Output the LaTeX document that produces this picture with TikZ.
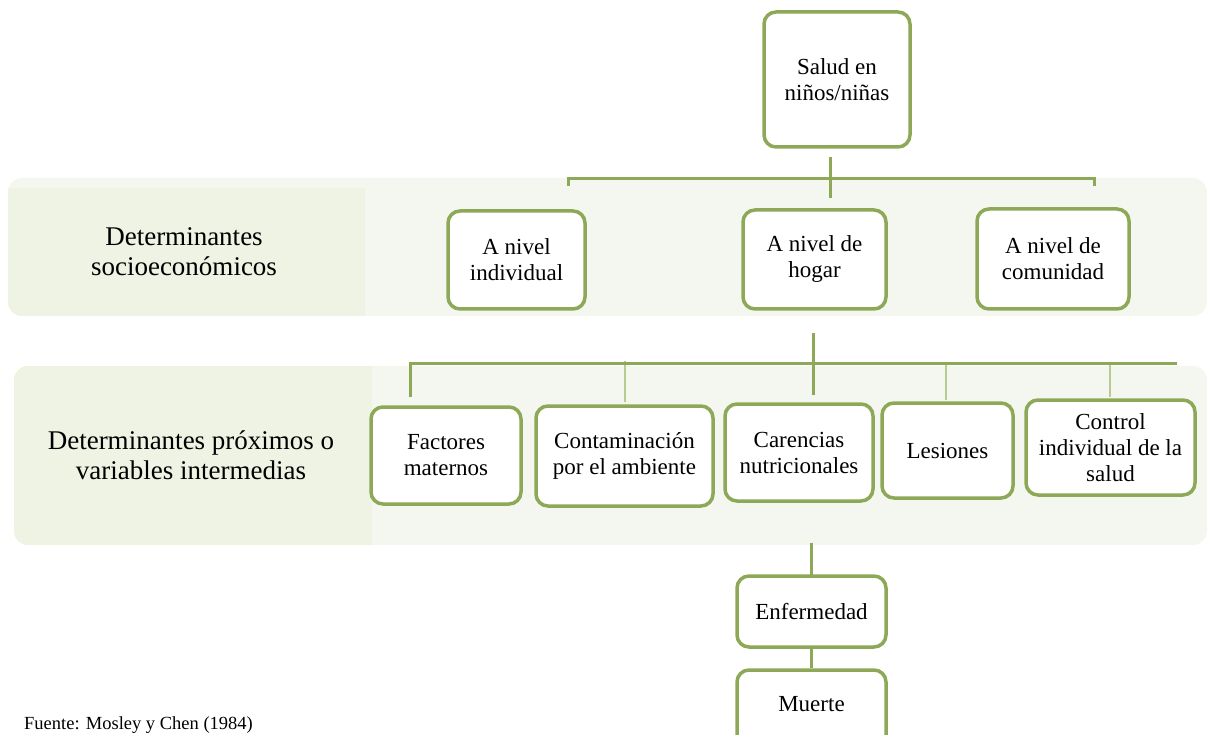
\documentclass[tikz,border=0pt]{standalone}
\usepackage{fontspec}
\setmainfont{Liberation Serif}
\usetikzlibrary{calc}

\definecolor{boxgreen}{HTML}{8DA957}
\definecolor{lightlink}{HTML}{B6CD8F}
\definecolor{bandlight}{HTML}{F4F7F0}
\definecolor{banddark}{HTML}{EEF3E4}

\begin{document}
\begin{tikzpicture}[x=1pt,y=-1pt,
  box/.style={draw=boxgreen, line width=3.5pt, rounded corners=12pt, fill=white,
              align=center, inner sep=0pt, font=\fontsize{23}{26}\selectfont},
  link/.style={draw=boxgreen, line width=3pt},
  softlink/.style={draw=lightlink, line width=2pt},
  bandlabel/.style={align=center, inner sep=0pt, font=\fontsize{27}{30}\selectfont}]

\useasboundingbox (0,0) rectangle (1208,735);
\clip (0,0) rectangle (1208,735);

% background bands
\fill[bandlight, rounded corners=14pt] (8,178) rectangle (1207,316);
\begin{scope}
  \clip[rounded corners=14pt] (8,178) rectangle (1207,316);
  \fill[banddark] (8,188) rectangle (365,316);
\end{scope}
\fill[bandlight, rounded corners=14pt] (14,366) rectangle (1207,545);
\begin{scope}
  \clip[rounded corners=14pt] (14,366) rectangle (1207,545);
  \fill[banddark] (14,366) rectangle (372,545);
\end{scope}

% band labels
\node[bandlabel] (socio) at (184,252) {Determinantes\\socioecon\'omicos};
\node[bandlabel] (prox) at (191,455) {Determinantes pr\'oximos o\\variables intermedias};

% boxes
\node[box, minimum width=146pt, minimum height=135pt] (salud) at (837,79.5) {Salud en\\ni\~nos/ni\~nas};

\node[box, minimum width=137pt, minimum height=98pt] (indiv) at (516.5,260) {A nivel\\individual};
\node[box, minimum width=143pt, minimum height=99pt] (hogar) at (814.5,259.5) {A nivel de\\hogar};
\node[box, minimum width=152pt, minimum height=100pt] (comun) at (1053,259) {A nivel de\\comunidad};

\node[box, minimum width=150pt, minimum height=97pt] (factores) at (446,455.5) {Factores\\maternos};
\node[box, minimum width=177pt, minimum height=100pt] (contam) at (624.5,456) {Contaminaci\'on\\por el ambiente};
\node[box, minimum width=148pt, minimum height=97pt] (carenc) at (799,452.5) {Carencias\\nutricionales};
\node[box, minimum width=131pt, minimum height=95pt] (lesion) at (947.5,450.5) {Lesiones};
\node[box, minimum width=169pt, minimum height=95pt] (control) at (1110.5,447.5) {Control\\individual de la\\salud};

\node[box, minimum width=149pt, minimum height=71pt] (enferm) at (811.5,611.5) {Enfermedad};
% runs past the lower edge of the page
\node[box, minimum width=149pt, minimum height=82pt, text depth=14pt] (muerte) at (811.5,711) {Muerte};

% connector end points
\coordinate (s1) at (830,157);
\coordinate (s2) at (830,198);
\coordinate (t1) at (568,186);
\coordinate (t2) at (568,179);
\coordinate (t3) at (1094,179);
\coordinate (t4) at (1094,186);

\coordinate (h1) at (813,333);
\coordinate (h2) at (813,395);
\coordinate (m1) at (410,397);
\coordinate (m2) at (410,364);
\coordinate (m3) at (1177,364);
\coordinate (c1) at (625,361);
\coordinate (c2) at (625,402);
\coordinate (l1) at (946,365);
\coordinate (l2) at (946,400);
\coordinate (k1) at (1110,365);
\coordinate (k2) at (1110,397);

\coordinate (e1) at (811,543);
\coordinate (e2) at (811,575);

% connectors
\draw[link] (s1) -- (s2);
\draw[link] (t1) -- (t2) -- (t3) -- (t4);

\draw[softlink] (c1) -- (c2);
\draw[softlink] (l1) -- (l2);
\draw[softlink] (k1) -- (k2);
\draw[link] (m1) -- (m2) -- (m3);
\draw[link] (h1) -- (h2);

\draw[link] (e1) -- (e2);
\draw[link] (enferm.south) -- (muerte.north);

% source line
\node[anchor=base west, inner sep=0pt, font=\fontsize{18.5}{22}\selectfont] (fuente) at (24,729) {Fuente: Mosley y Chen (1984)};

\end{tikzpicture}
\end{document}
